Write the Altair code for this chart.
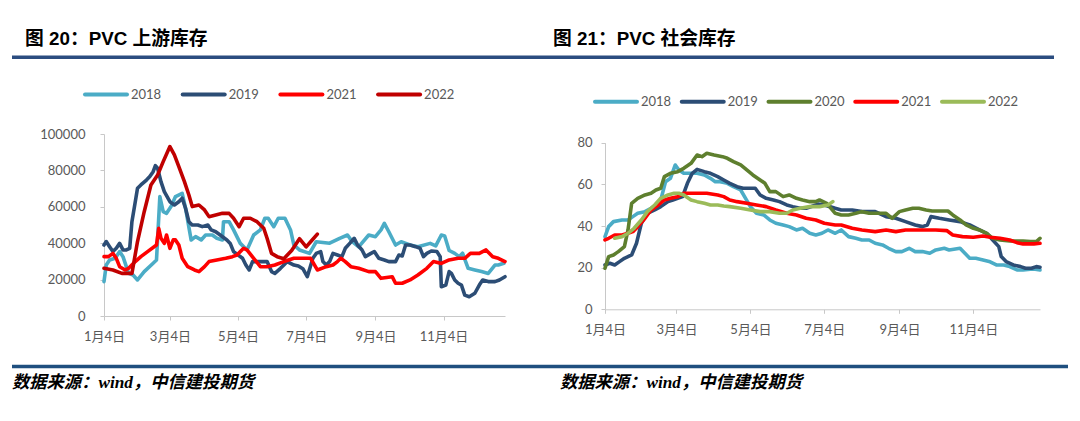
import altair as alt
import pandas as pd

# ---------------- data (day offsets from Jan 4, values) ----------------
# Left: PVC upstream inventory (tons)
up18_day = [0, 2, 5, 10, 14, 17, 22, 26, 30, 36, 44, 47, 50, 53, 56, 60, 64, 70, 73, 78, 82, 87, 91, 97, 101, 106, 107, 112, 116, 122, 128, 134, 140, 144, 147, 152, 156, 162, 167, 170, 175, 184, 190, 202, 211, 218, 222, 228, 237, 243, 248, 251, 255, 261, 266, 274, 281, 292, 297, 302, 305, 309, 314, 318, 321, 326, 332, 338, 344, 350, 353, 358]
up18_val = [18900, 28000, 30800, 31700, 35400, 32600, 23400, 22500, 19800, 24400, 29000, 30800, 65600, 57300, 56400, 60100, 65600, 67400, 59200, 41800, 43600, 41800, 44500, 44500, 42700, 41800, 51800, 51800, 47300, 39900, 36300, 44500, 47300, 53700, 53700, 49100, 53700, 53700, 47300, 39000, 36300, 34400, 40800, 40000, 42700, 44500, 41000, 38000, 44500, 43600, 47300, 50900, 46300, 39000, 40800, 39000, 38100, 39900, 38500, 44500, 44000, 36000, 34400, 32600, 34500, 26200, 25300, 24400, 23400, 28000, 28000, 29000]

up19_day = [0, 2, 5, 8, 11, 14, 17, 20, 23, 25, 28, 30, 33, 38, 41, 44, 46, 48, 51, 54, 59, 63, 67, 70, 73, 76, 79, 84, 88, 93, 96, 100, 104, 110, 113, 116, 124, 127, 130, 133, 140, 146, 150, 153, 158, 161, 164, 170, 174, 178, 182, 187, 190, 194, 196, 199, 202, 205, 209, 213, 216, 220, 224, 227, 231, 234, 239, 242, 246, 251, 255, 261, 264, 267, 270, 274, 279, 283, 286, 289, 293, 298, 301, 302, 306, 309, 311, 314, 317, 320, 323, 327, 332, 336, 339, 344, 350, 354, 359]
up19_val = [39000, 40900, 38100, 35400, 37200, 39900, 36300, 36300, 37200, 51800, 62800, 70200, 72000, 74700, 76600, 79300, 82600, 81200, 73800, 68300, 62800, 61000, 62800, 64700, 59200, 51800, 50000, 50000, 49100, 50000, 47300, 46300, 44500, 41800, 39900, 35400, 31700, 28000, 25300, 29900, 29900, 29900, 24400, 23400, 26200, 28000, 29900, 28000, 27500, 26000, 21600, 31700, 34400, 35400, 29900, 28000, 29900, 34400, 33500, 32600, 37200, 39900, 42700, 39000, 36300, 32600, 34400, 35400, 31700, 30800, 29900, 29900, 33500, 33000, 39000, 39000, 38100, 37200, 32600, 34400, 35700, 35400, 32600, 16100, 17000, 24400, 23400, 19800, 18000, 17000, 11500, 10600, 12500, 17000, 19800, 18900, 18900, 19800, 21600]

up21_day = [0, 4, 8, 11, 14, 19, 22, 28, 33, 39, 47, 49, 51, 54, 56, 59, 62, 64, 67, 70, 75, 81, 85, 90, 94, 101, 109, 115, 119, 125, 128, 134, 140, 146, 153, 161, 170, 185, 191, 199, 205, 209, 212, 216, 221, 228, 237, 243, 248, 258, 261, 267, 274, 281, 289, 295, 302, 309, 317, 323, 328, 336, 342, 348, 353, 359]
up21_val = [32600, 32600, 34400, 31700, 27100, 25300, 26200, 29900, 32600, 35400, 39000, 48200, 42700, 39900, 44500, 37200, 41800, 41800, 39000, 31700, 27100, 25300, 24400, 27100, 29900, 30800, 31700, 32600, 33500, 37200, 36300, 31700, 27100, 27100, 28000, 29900, 31700, 31700, 25300, 27100, 28000, 29900, 31700, 29900, 27100, 26200, 24400, 24400, 20700, 21600, 18000, 18000, 19800, 22500, 26200, 29900, 28900, 30800, 31700, 31700, 34400, 34400, 36300, 32600, 31700, 29900]

up22_day = [0, 8, 16, 25, 30, 36, 42, 48, 53, 59, 63, 67, 72, 76, 79, 85, 90, 94, 100, 106, 112, 116, 121, 125, 131, 137, 143, 146, 150, 155, 161, 168, 175, 181, 186, 191]
up22_val = [26200, 25300, 23400, 23400, 40900, 57300, 72000, 77500, 84800, 93100, 88500, 82100, 73800, 66500, 60100, 61000, 58300, 54600, 55500, 56400, 56400, 53700, 49100, 53700, 53700, 51800, 48200, 42700, 34400, 32600, 31500, 36000, 42500, 38000, 41500, 45000]

# Right: PVC social inventory (10k tons)
soc18_day = [0, 3, 7, 14, 19, 23, 27, 33, 38, 42, 46, 50, 54, 58, 61, 65, 71, 76, 82, 87, 91, 95, 101, 106, 112, 116, 120, 125, 131, 136, 141, 147, 152, 158, 163, 169, 174, 179, 184, 190, 195, 201, 207, 212, 218, 223, 229, 234, 240, 245, 251, 256, 262, 268, 273, 280, 284, 293, 297, 301, 306, 312, 317, 323, 329, 334, 340, 345, 351, 355, 359]
soc18_val = [34.9, 39.7, 42.1, 42.9, 42.9, 44.5, 46.1, 46.9, 48.5, 50.1, 52.5, 61.3, 62.9, 69.3, 66.9, 65.3, 65.3, 65.3, 64.5, 62.9, 61.3, 61.3, 60.5, 58.9, 57.3, 53.3, 49.3, 46.1, 45.3, 42.9, 41.3, 40.5, 39.7, 38.1, 38.9, 36.5, 35.7, 36.5, 38.1, 36.5, 38.1, 34.9, 34.1, 33.3, 33.3, 31.7, 30.9, 29.3, 27.7, 27.7, 29.3, 27.7, 27.7, 26.9, 28.5, 29.3, 28.5, 29.3, 26.9, 24.5, 24.5, 23.7, 23.0, 21.3, 21.3, 20.5, 18.9, 18.9, 19.2, 19.2, 18.9]

soc19_day = [0, 4, 8, 12, 16, 22, 26, 30, 35, 41, 46, 52, 56, 60, 64, 68, 72, 76, 82, 87, 93, 98, 103, 109, 114, 120, 124, 128, 133, 139, 144, 150, 155, 161, 166, 171, 176, 181, 190, 195, 204, 212, 223, 232, 240, 248, 256, 262, 266, 269, 276, 284, 293, 301, 309, 315, 320, 325, 327, 331, 337, 343, 347, 352, 356, 359]
soc19_val = [21.3, 22.1, 21.3, 22.9, 24.5, 26.1, 31.7, 41.3, 46.1, 47.7, 49.3, 51.7, 52.5, 53.3, 54.1, 60.5, 65.3, 67.2, 66.1, 65.3, 63.7, 62.1, 60.5, 58.9, 58.1, 58.1, 58.1, 54.9, 53.3, 52.5, 51.7, 50.1, 49.3, 48.5, 48.5, 49.5, 50.5, 50.1, 48.5, 47.7, 47.7, 46.9, 46.9, 44.5, 43.7, 42.1, 40.5, 39.7, 40.5, 44.5, 43.7, 42.9, 42.1, 40.5, 38.1, 36.5, 33.3, 30.1, 25.3, 22.9, 21.3, 20.5, 19.7, 19.7, 20.5, 20.2]

soc20_day = [0, 3, 7, 11, 16, 19, 22, 27, 33, 38, 42, 46, 49, 54, 60, 65, 71, 76, 80, 84, 90, 97, 101, 106, 112, 117, 122, 128, 132, 136, 141, 147, 152, 158, 163, 169, 174, 177, 183, 190, 195, 201, 207, 212, 218, 226, 232, 237, 243, 248, 254, 259, 265, 270, 276, 283, 287, 293, 298, 304, 309, 315, 320, 326, 334, 340, 345, 351, 356, 359]
soc20_val = [19.7, 25.3, 26.1, 27.7, 30.1, 38.1, 50.9, 53.3, 54.9, 55.7, 57.3, 58.1, 63.7, 65.3, 66.1, 67.7, 70.1, 74.1, 73.3, 74.9, 74.1, 73.3, 72.5, 70.9, 69.3, 66.9, 64.5, 62.1, 60.5, 56.5, 56.5, 54.1, 54.9, 53.3, 52.5, 51.7, 51.7, 52.5, 50.9, 46.1, 45.3, 45.3, 46.1, 46.9, 46.1, 46.1, 46.1, 43.7, 46.9, 47.7, 48.5, 48.5, 47.7, 47.2, 47.2, 47.2, 45.3, 42.9, 40.5, 38.9, 38.1, 36.5, 34.1, 33.3, 32.8, 32.8, 32.8, 32.5, 32.5, 34.1]

soc21_day = [0, 3, 8, 14, 19, 23, 27, 33, 38, 44, 49, 54, 60, 65, 71, 76, 84, 93, 98, 103, 109, 117, 125, 133, 141, 150, 158, 166, 174, 181, 190, 195, 204, 212, 223, 232, 240, 248, 256, 265, 273, 282, 287, 295, 304, 312, 318, 326, 334, 340, 345, 354, 359]
soc21_val = [33.3, 34.1, 35.7, 35.7, 36.5, 37.3, 39.7, 43.7, 47.7, 50.1, 52.5, 53.3, 54.1, 55.7, 55.7, 55.7, 55.7, 54.9, 54.1, 52.5, 51.7, 50.9, 50.1, 49.3, 47.7, 46.1, 45.3, 43.7, 42.9, 41.3, 40.5, 40.5, 38.9, 38.1, 37.3, 38.1, 37.3, 38.1, 38.1, 38.1, 38.1, 37.8, 35.7, 34.9, 34.6, 35.2, 34.6, 34.1, 33.3, 32.0, 31.4, 31.4, 31.7]

soc22_day = [8, 14, 19, 24, 30, 35, 41, 46, 52, 57, 61, 65, 71, 76, 82, 87, 93, 98, 103, 112, 120, 128, 136, 144, 150, 155, 161, 169, 177, 184, 188]
soc22_val = [34.1, 34.9, 36.5, 38.9, 42.9, 46.9, 50.1, 53.3, 54.9, 55.7, 55.7, 54.9, 52.5, 51.7, 50.9, 50.1, 50.1, 49.6, 49.3, 48.5, 47.7, 46.9, 46.9, 46.1, 46.1, 47.7, 48.5, 49.3, 49.3, 50.1, 51.7]

left_names = ["2018", "2019", "2021", "2022"]
left_colors = ["#4BACC6", "#2C4D75", "#FF0000", "#C00000"]
right_names = ["2018", "2019", "2020", "2021", "2022"]
right_colors = ["#4BACC6", "#2C4D75", "#5E7F2E", "#FF0000", "#9BBB59"]

tick_dates = [(1, 4), (3, 4), (5, 4), (7, 4), (9, 4), (11, 4)]

# ---------------- helpers ----------------
BASE = pd.Timestamp("2021-01-04")
NUM_FONT = "Lato, Noto Sans CJK SC"
LABEL_GRAY = "#595959"
AXIS_GRAY = "#C8C8C8"
RULE_BLUE = "#2B4D80"

one = pd.DataFrame({"k": [0]})


def frame(days, vals, name):
    return pd.DataFrame({
        "date": [BASE + pd.Timedelta(days=d) for d in days],
        "value": vals,
        "series": name,
    })


xscale = alt.Scale(domain=[alt.DateTime(year=2021, month=1, date=4),
                           alt.DateTime(year=2021, month=12, date=29)])
xaxis = alt.Axis(values=[alt.DateTime(year=2021, month=m, date=d) for m, d in tick_dates],
                 format="%-m月%-d日", labelFont=NUM_FONT, labelFontSize=13,
                 labelColor=LABEL_GRAY, tickSize=4, tickColor=AXIS_GRAY,
                 domainColor=AXIS_GRAY, labelPadding=10, grid=False, title=None,
                 labelOverlap=False, labelFlush=False)


def text_layer(txt, x, y, size, weight="normal", color="black", font=NUM_FONT,
               style="normal", align="left", baseline="middle"):
    return alt.Chart(one).mark_text(text=txt, align=align, baseline=baseline, font=font,
                                    fontSize=size, fontWeight=weight, fontStyle=style,
                                    color=color).encode(x=alt.value(x), y=alt.value(y))


def rule_layer(x1, x2, y, color, width):
    return alt.Chart(one).mark_rule(color=color, strokeWidth=width).encode(
        x=alt.value(x1), x2=alt.value(x2), y=alt.value(y))


def panel(series, names, colors, yscale, yaxis, title, title_x, leg_x0, leg_step, leg_y,
          src_x, extra_first=None):
    layers = []
    if extra_first is not None:
        layers.extend(extra_first)
    cscale = alt.Scale(domain=names, range=colors)
    for name, days, vals in series:
        df = frame(days, vals, name)
        layers.append(
            alt.Chart(df).mark_line(strokeWidth=3.6, strokeCap="round", strokeJoin="round").encode(
                x=alt.X("date:T", scale=xscale, axis=xaxis),
                y=alt.Y("value:Q", scale=yscale, axis=yaxis),
                color=alt.Color("series:N", scale=cscale, legend=None),
            )
        )
    # legend
    for i, (name, col) in enumerate(zip(names, colors)):
        x1 = leg_x0 + i * leg_step
        layers.append(alt.Chart(one).mark_rule(color=col, strokeWidth=4, strokeCap="round").encode(
            x=alt.value(x1), x2=alt.value(x1 + 42), y=alt.value(leg_y)))
        layers.append(text_layer(name, x1 + 46, leg_y, 13, color=LABEL_GRAY))
    # title and source
    layers.append(text_layer(title, title_x, -89, 18.8, weight="bold",
                             font="Liberation Sans, Noto Sans CJK SC", baseline="alphabetic"))
    layers.append(text_layer("数据来源：wind，中信建投期货", src_x, 249, 17.3, weight="bold",
                             font="Liberation Serif, Noto Sans CJK SC", style="italic"))
    return alt.layer(*layers)


# ---------------- left panel ----------------
left_series = [("2018", up18_day, up18_val), ("2019", up19_day, up19_val),
               ("2021", up21_day, up21_val), ("2022", up22_day, up22_val)]
left_y = alt.Scale(domain=[0, 100000], nice=False)
left_yaxis = alt.Axis(values=[0, 20000, 40000, 60000, 80000, 100000], format="d",
                      labelFont=NUM_FONT, labelFontSize=13, labelColor=LABEL_GRAY,
                      tickSize=4, tickColor=AXIS_GRAY, domainColor=AXIS_GRAY,
                      labelPadding=15, grid=False, title=None)

# transparent frame that fixes the page extent
background = alt.Chart(one).mark_rect(color="white", opacity=0).encode(
    x=alt.value(-96), x2=alt.value(968), y=alt.value(-126), y2=alt.value(279))
top_rule = rule_layer(-92, 950, -76.7, RULE_BLUE, 3.5)
bottom_rule = rule_layer(-92, 964, 232.5, "#1F4F7F", 3.5)

left = panel(left_series, left_names, left_colors, left_y, left_yaxis,
             "图 20：PVC 上游库存", -79, -19, 97.7, -39.5, -92,
             extra_first=[background, top_rule, bottom_rule]).properties(width=401, height=182)

# ---------------- right panel ----------------
right_series = [("2018", soc18_day, soc18_val), ("2019", soc19_day, soc19_val),
                ("2020", soc20_day, soc20_val), ("2021", soc21_day, soc21_val),
                ("2022", soc22_day, soc22_val)]
right_y = alt.Scale(domain=[0, 80], nice=False, range=[175.3, 8.7])
right_yaxis = alt.Axis(values=[0, 20, 40, 60, 80], format="d",
                       labelFont=NUM_FONT, labelFontSize=13, labelColor=LABEL_GRAY,
                       tickSize=4, tickColor=AXIS_GRAY, domainColor=AXIS_GRAY,
                       labelPadding=9, grid=False, title=None)

right = panel(right_series, right_names, right_colors, right_y, right_yaxis,
              "图 21：PVC 社会库存", -52, -10, 86.75, -32.3, -45).properties(width=435, height=175.3)

chart = alt.hconcat(left, right, spacing=100, bounds="flush").resolve_scale(
    color="independent").properties(padding=0).configure_view(stroke=None)

chart.save("out.html", embed_options={"renderer": "svg", "actions": False})
